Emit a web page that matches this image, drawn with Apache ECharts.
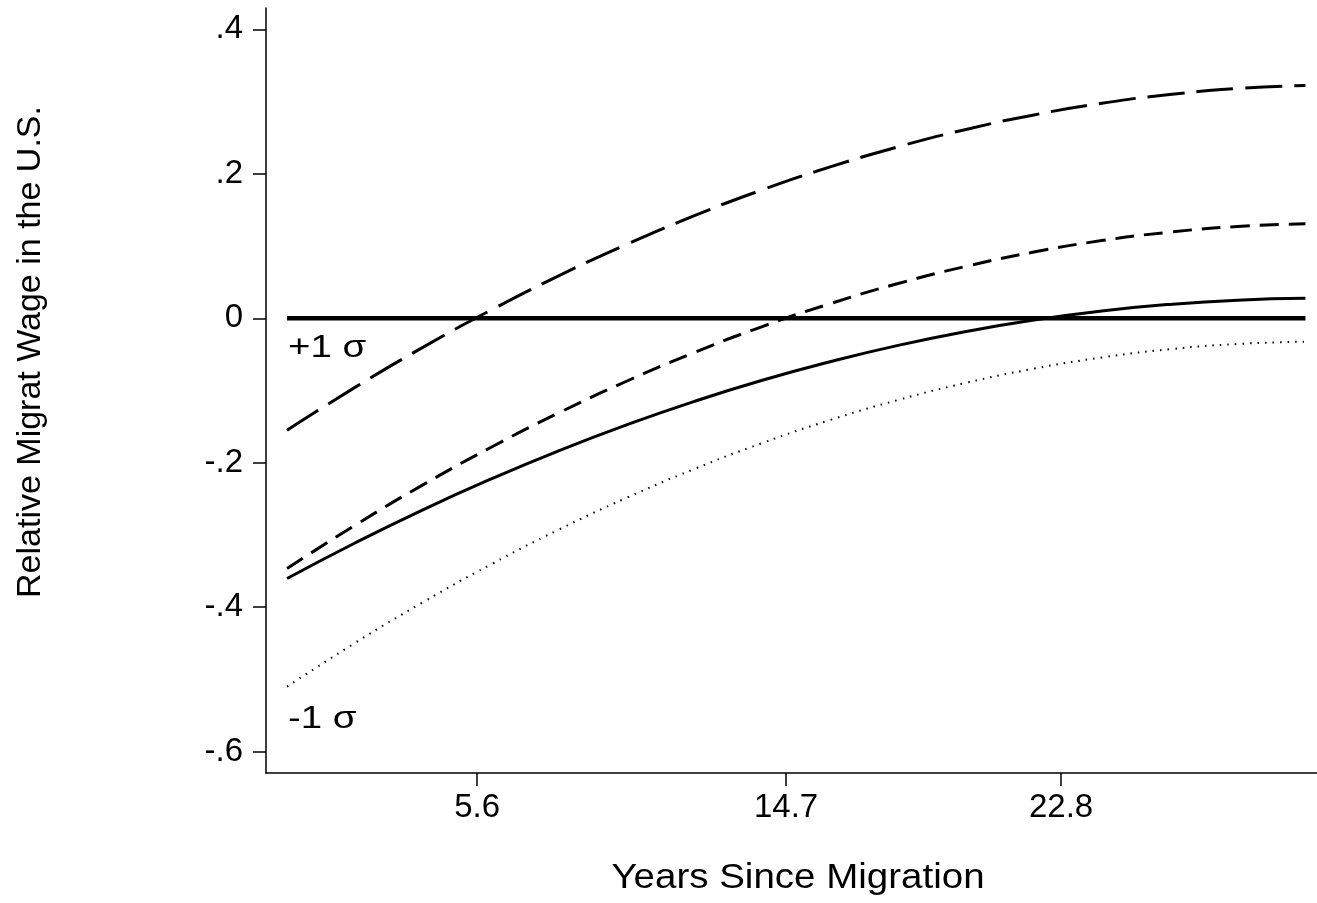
<!DOCTYPE html>
<html>
<head>
<meta charset="utf-8">
<script src="https://cdn.jsdelivr.net/npm/echarts@6/dist/echarts.min.js"></script>
<style>
html,body{margin:0;padding:0;background:#fff;}
#chart{width:1317px;height:903px;}
</style>
</head>
<body>
<div id="chart"></div>
<script>
// Years since migration (x values)
const years = [0, 2, 4, 6, 8, 10, 12, 14, 16, 18, 20, 22, 24, 26, 28, 30];
// Long dash curve (+1 sigma)
const longDash = [-0.155, -0.0957, -0.0403, 0.0111, 0.0587, 0.1023, 0.142, 0.1778, 0.2095, 0.2374, 0.2614, 0.2815, 0.2976, 0.3097, 0.318, 0.3223];
// Medium dash curve
const mediumDash = [-0.3465, -0.2866, -0.2307, -0.1789, -0.1311, -0.0872, -0.0473, -0.0115, 0.0202, 0.0481, 0.0719, 0.0917, 0.1075, 0.1192, 0.127, 0.1308];
// Solid curve
const solidCurve = [-0.3603, -0.3111, -0.2652, -0.2227, -0.1835, -0.1476, -0.115, -0.0858, -0.0601, -0.0375, -0.0183, -0.0024, 0.0101, 0.0192, 0.0251, 0.0276];
// Dotted curve (-1 sigma)
const dotted = [-0.51, -0.4495, -0.3932, -0.3409, -0.2927, -0.2486, -0.2086, -0.1727, -0.1408, -0.1131, -0.0894, -0.0698, -0.0543, -0.0429, -0.0356, -0.0324];
// Reference line at zero
const zeroLineX = [0, 30];
const zeroLineY = [0, 0];
// Tick values
const xTicks = [5.6, 14.7, 22.8];
const yTicks = [-0.6, -0.4, -0.2, 0, 0.2, 0.4];
// In-plot labels
const noteTexts = ['+1 σ', '-1 σ'];
const noteX = [0, 0];
const noteY = [-0.041, -0.555];

const FONT = '"Liberation Sans", Arial, Helvetica, sans-serif';
const pair = (xs, ys) => xs.map((x, i) => [x, ys[i]]);

const chart = echarts.init(document.getElementById('chart'), null, {renderer: 'canvas'});

function fmtY(v) {
  const r = Math.round(v * 10) / 10;
  if (r === 0) return '0';
  return String(r).replace('0.', '.');
}

const option = {
  backgroundColor: '#fff',
  animation: false,
  grid: {left: 266, right: 0, top: 8, bottom: 130, containLabel: false},
  xAxis: {
    type: 'value',
    min: -0.62,
    max: 30.34,
    axisLine: {show: true, onZero: false, lineStyle: {color: '#000', width: 1.5}},
    axisTick: {show: true, length: 13, lineStyle: {color: '#000', width: 1.5}, customValues: xTicks},
    axisLabel: {show: true, color: '#000', fontSize: 33, fontFamily: FONT, margin: 18,
      customValues: xTicks, formatter: v => String(v)},
    splitLine: {show: false}
  },
  yAxis: {
    type: 'value',
    min: -0.6295,
    max: 0.4295,
    axisLine: {show: true, onZero: false, lineStyle: {color: '#000', width: 1.5}},
    axisTick: {show: true, length: 13, lineStyle: {color: '#000', width: 1.5}, customValues: yTicks},
    axisLabel: {show: true, color: '#000', fontSize: 33, fontFamily: FONT, margin: 23,
      customValues: yTicks, formatter: fmtY},
    splitLine: {show: false}
  },
  graphic: [
    {type: 'text', x: 798, y: 878, scaleX: 1.1,
      style: {text: 'Years Since Migration', font: '35px ' + FONT, fill: '#000', textAlign: 'center', textVerticalAlign: 'middle'}},
    {type: 'text', x: 31, y: 352, rotation: Math.PI / 2,
      style: {text: 'Relative Migrat Wage in the U.S.', font: '34px ' + FONT, fill: '#000', textAlign: 'center', textVerticalAlign: 'middle'}}
  ],
  series: [
    {name: 'zero', type: 'line', data: pair(zeroLineX, zeroLineY), symbol: 'none',
      lineStyle: {color: '#000', width: 4.5}, z: 2},
    {name: 'longDash', type: 'line', data: pair(years, longDash), symbol: 'none', smooth: 0.5,
      lineStyle: {color: '#000', width: 3, type: [37, 12]}, z: 3},
    {name: 'mediumDash', type: 'line', data: pair(years, mediumDash), symbol: 'none', smooth: 0.5,
      lineStyle: {color: '#000', width: 3, type: [19, 10]}, z: 3},
    {name: 'solid', type: 'line', data: pair(years, solidCurve), symbol: 'none', smooth: 0.5,
      lineStyle: {color: '#000', width: 3}, z: 3},
    {name: 'dotted', type: 'line', data: pair(years, dotted), symbol: 'none', smooth: 0.5,
      lineStyle: {color: '#000', width: 2, type: [1.5, 6]}, z: 3}
  ]
};
chart.setOption(option);

// In-plot labels placed through the chart's own coordinate conversion
const notes = noteTexts.map((t, i) => {
  const p = chart.convertToPixel({gridIndex: 0}, [noteX[i], noteY[i]]);
  return {type: 'text', x: p[0] + 1, y: p[1], scaleX: 1.2, z: 10,
    style: {text: t, font: '32px ' + FONT, fill: '#000', textAlign: 'left', textVerticalAlign: 'middle'}};
});
chart.setOption({graphic: option.graphic.concat(notes)});
</script>
</body>
</html>
